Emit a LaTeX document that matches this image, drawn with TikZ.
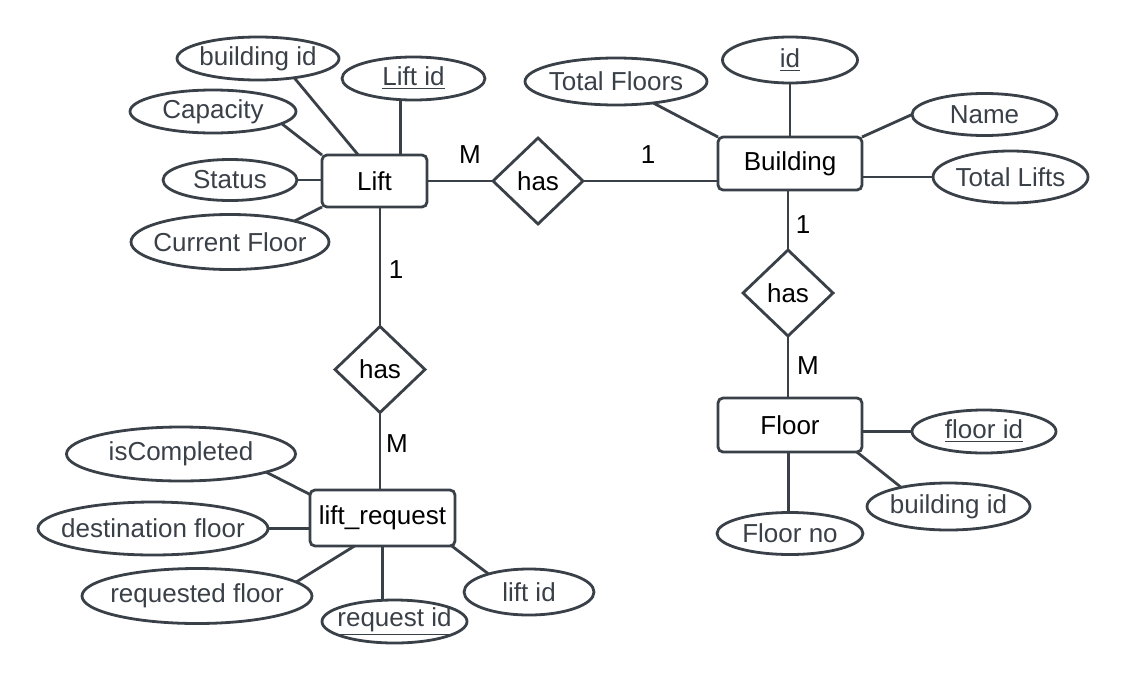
\documentclass[tikz,border=0pt]{standalone}
\usepackage{fontspec}
\setmainfont{Liberation Sans}
\usepackage{xcolor}
\usetikzlibrary{shapes.geometric}
\definecolor{er}{RGB}{58,64,72}

\begin{document}
\begin{tikzpicture}[x=0.5pt, y=-0.5pt, line width=1.4pt, color=er,
        every node/.style={font=\fontsize{13}{15}\selectfont, inner sep=0pt, outer sep=0pt},
        entity/.style={rectangle, draw, rounded corners=2.5pt, text=black},
        rel/.style={diamond, draw, text=black, minimum width=45pt, minimum height=43pt},
        attr/.style={ellipse, draw, inner xsep=-40pt, inner ysep=-5pt},
        card/.style={text=black},
        sz/.style 2 args={minimum width=#1*0.5pt, minimum height=#2*0.5pt}]
        \useasboundingbox (0,0) rectangle (1128,685);

        \node[entity, sz={105}{52}] (lift) at (374.5,181) {Lift};
        \node[entity, sz={144}{53}] (bldg) at (790,163.5) {Building};
        \node[entity, sz={144}{54}] (floor) at (790,425) {Floor};
        \node[entity, sz={145}{56}] (req) at (382.5,518) {lift\_request};

        \node[rel] (hasA) at (538,181) {has};
        \node[rel] (hasB) at (788,293) {has};
        \node[rel] (hasC) at (380,369.5) {has};

        \node[attr, sz={162}{43}] (liftBid) at (258,58.5) {building id};
        \node[attr, sz={143}{43}] (liftId) at (413.5,78.5) {\underline{Lift id}};
        \node[attr, sz={166}{43}] (cap) at (213,111.5) {Capacity};
        \node[attr, sz={134}{41}] (status) at (230,180) {Status};
        \node[attr, sz={198}{55}] (curFloor) at (230,242) {Current Floor};

        \node[attr, sz={182}{47}] (totFloors) at (616,81.5) {Total Floors};
        \node[attr, sz={135}{46}] (bId) at (790,60) {\underline{id}};
        \node[attr, sz={145}{42}] (name) at (984.5,114.5) {Name};
        \node[attr, sz={155}{52}] (totLifts) at (1010.5,177) {Total Lifts};

        \node[attr, sz={144}{43}] (floorId) at (984,431.5) {\underline{floor id}};
        \node[attr, sz={163}{47}] (floorBid) at (948.5,506.5) {building id};
        \node[attr, sz={146}{42}] (floorNo) at (790,533.5) {Floor no};

        \node[attr, sz={229}{54}] (isComp) at (181,454) {isCompleted};
        \node[attr, sz={230}{53}] (destFloor) at (153,528.5) {destination floor};
        \node[attr, sz={230}{55}] (reqFloor) at (197,596) {requested floor};
        \node[attr, sz={145}{43}] (reqId) at (394.5,621.5) {\underline{request id}};
        \node[attr, sz={130}{46}] (reqLiftId) at (529,592) {lift id};

        \node[card] (mA) at (470,155) {M};
        \node[card] (oneA) at (648,155) {1};
        \node[card] (oneB) at (803,225) {1};
        \node[card] (mB) at (808,366) {M};
        \node[card] (oneC) at (396,270) {1};
        \node[card] (mC) at (397,444) {M};

        \draw (liftBid.-28) -- (lift.122);
        \draw (cap.-10) -- (lift.north west);
        \draw (status.east) -- (status.east -| lift.west);
        \draw (curFloor.18) -- (lift.south west);
        \draw (liftId.-122) -- (liftId.-122 |- lift.north);
        \draw (lift.east) -- (hasA.west);
        \draw (hasA.east) -- (hasA.east -| bldg.west);
        \draw (hasC) -- (hasC |- lift.south);
        \draw (hasC) -- (hasC |- req.north);

        \draw (totFloors.-30) -- (bldg.north west);
        \draw (bId) -- (bldg);
        \draw (name.west) -- (bldg.north east);
        \draw (totLifts.west) -- (totLifts.west -| bldg.east);
        \draw (hasB) -- (hasB |- bldg.south);
        \draw (hasB) -- (hasB |- floor.north);

        \draw (floorId.west) -- (floorId.west -| floor.east);
        \draw (floor.-22) -- (floorBid.158);
        \draw (floor.-94) -- (floor.-94 |- floorNo.north);

        \draw (isComp.-12) -- (req.162);
        \draw (destFloor.east) -- (destFloor.east -| req.west);
        \draw (reqFloor.8) -- (req.-135);
        \draw (req.south) -- (req.south |- reqId.north);
        \draw (req.-22) -- (reqLiftId.156);
    \end{tikzpicture}
\end{document}
